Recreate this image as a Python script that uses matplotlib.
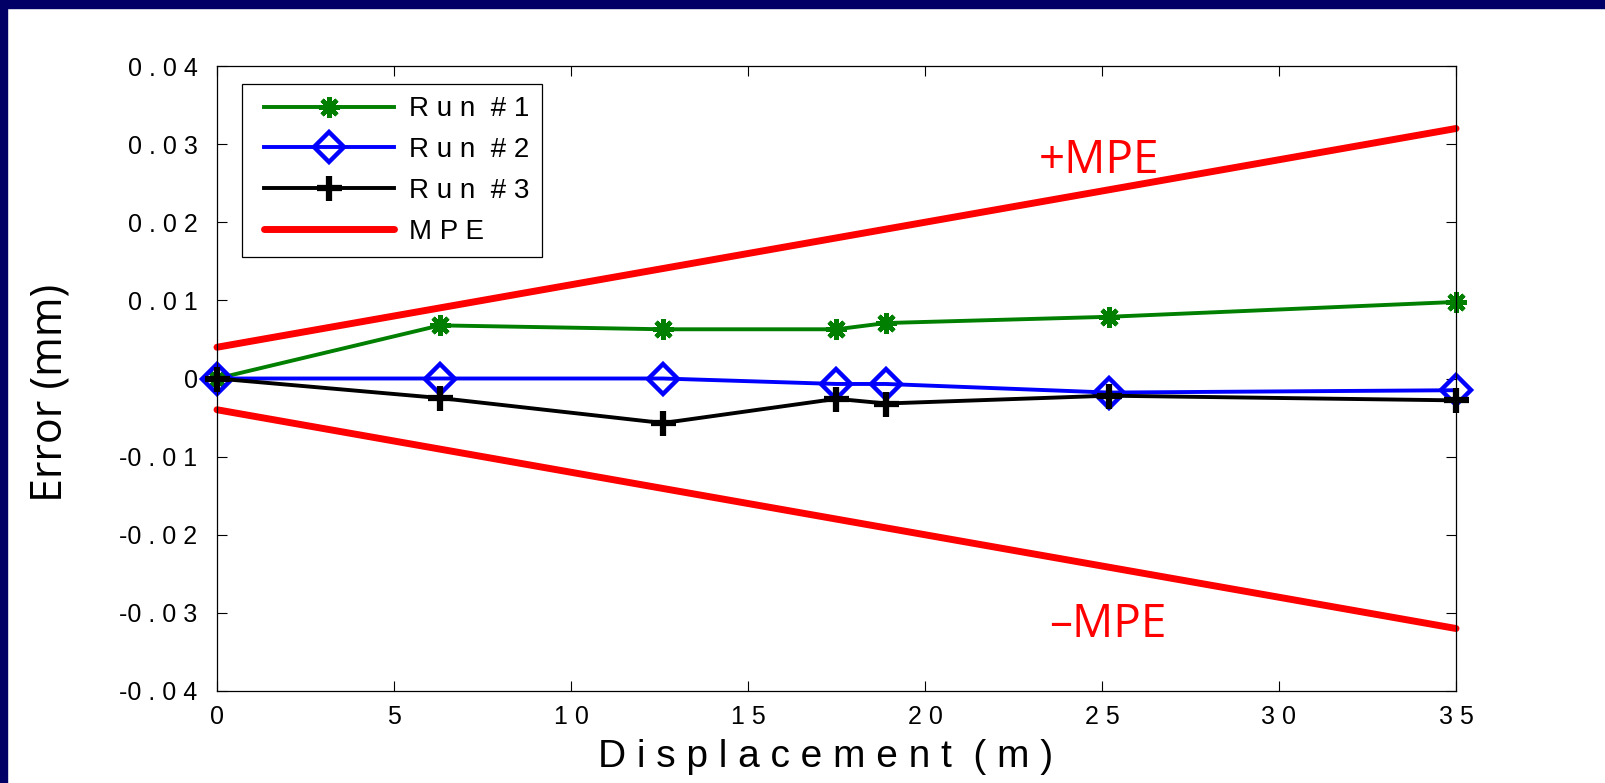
import matplotlib
matplotlib.use("Agg")
import matplotlib.pyplot as plt
import numpy as np
from matplotlib.lines import Line2D
from matplotlib.legend_handler import HandlerLine2D
from matplotlib.patches import Rectangle

# displacement positions (m)
disp = [0, 6.3, 12.6, 17.5, 18.9, 25.2, 35]

run1 = [0, 0.0068, 0.0063, 0.0063, 0.0071, 0.0079, 0.0098]
run2 = [0, 0, 0, -0.0007, -0.0007, -0.0018, -0.0015]
run3 = [0, -0.0025, -0.0057, -0.0026, -0.0032, -0.0022, -0.0028]

# maximum permissible error limits
mpe_x = [0, 35]
mpe_hi = [0.004, 0.032]
mpe_lo = [-0.004, -0.032]

yticks = [-0.04, -0.03, -0.02, -0.01, 0, 0.01, 0.02, 0.03, 0.04]
xticks = [0, 5, 10, 15, 20, 25, 30, 35]

navy = "#000066"
tick_font = ["Liberation Sans", "DejaVu Sans"]


def spaced(s):
    return " ".join(s)


def ylab(v):
    if v == 0:
        return "0"
    s = "%.2f" % abs(v)
    if v < 0:
        return "-" + spaced(s)
    return spaced(s)


W, H = 1606, 783
fig = plt.figure(figsize=(W / 100, H / 100), dpi=100)
fig.patch.set_facecolor("white")

# navy frame on top and left
fig.patches.append(Rectangle((0, 1 - 8 / H), 1, 8 / H, transform=fig.transFigure,
                             color=navy, zorder=0))
fig.patches.append(Rectangle((0, 0), 7 / W, 1, transform=fig.transFigure,
                             color=navy, zorder=0))

ax = fig.add_axes([217 / W, 1 - 691 / H, 1239 / W, 625 / H])

ax.plot(disp, run1, color="#007f00", lw=2.8, marker=(8, 2, 0), ms=15, mew=3.2,
        label="R u n  # 1", clip_on=False)
ax.plot(disp, run2, color="#0000ff", lw=2.8, marker="D", ms=15, mew=3.2,
        mfc="none", label="R u n  # 2", clip_on=False)
ax.plot(disp, run3, color="black", lw=2.8, marker="+", ms=18, mew=4.5,
        label="R u n  # 3", clip_on=False)
ax.plot(mpe_x, mpe_hi, color="#ff0000", lw=5, solid_capstyle="round",
        label="M P E", clip_on=False)
ax.plot(mpe_x, mpe_lo, color="#ff0000", lw=5, solid_capstyle="round",
        clip_on=False)

ax.set_xlim(0, 35)
ax.set_ylim(-0.04, 0.04)
ax.set_xticks(xticks)
ax.set_xticklabels([spaced(str(t)) for t in xticks], family=tick_font)
ax.set_yticks(yticks)
ax.set_yticklabels([ylab(v) for v in yticks], family=tick_font)
ax.tick_params(direction="in", top=True, right=True, length=7, width=0.8,
               labelsize=18)
ax.tick_params(axis="y", pad=14)
ax.tick_params(axis="x", pad=10)
for sp in ax.spines.values():
    sp.set_linewidth(0.9)

ax.text(23.2, 0.0263, "+MPE", color="#ff0000", fontsize=33, family="Open Sans",
        ha="left", va="baseline")
ax.text(23.5, -0.0331, "\u2013MPE", color="#ff0000", fontsize=33,
        family="Open Sans", ha="left", va="baseline")

leg = ax.legend(loc="upper left", bbox_to_anchor=(242 / W, 1 - 84 / H),
                bbox_transform=fig.transFigure, borderaxespad=0,
                prop={"family": tick_font, "size": 20}, numpoints=1,
                handlelength=5.02, handletextpad=0.54, borderpad=0.45,
                labelspacing=0.53, fancybox=False, framealpha=1,
                edgecolor="black",
                handler_map={Line2D: HandlerLine2D(xpad=0.34)})
leg.get_frame().set_linewidth(0.9)

fig.text(826 / W, 1 - 767 / H, "D i s p l a c e m e n t  ( m )", fontsize=28,
         family=tick_font, ha="center", va="baseline")
fig.text(50 / W, 1 - 393 / H, "Error (mm)", fontsize=31, family="Open Sans",
         rotation=90, ha="center", va="center")

fig.savefig("out.png", dpi=100, facecolor=fig.get_facecolor())
